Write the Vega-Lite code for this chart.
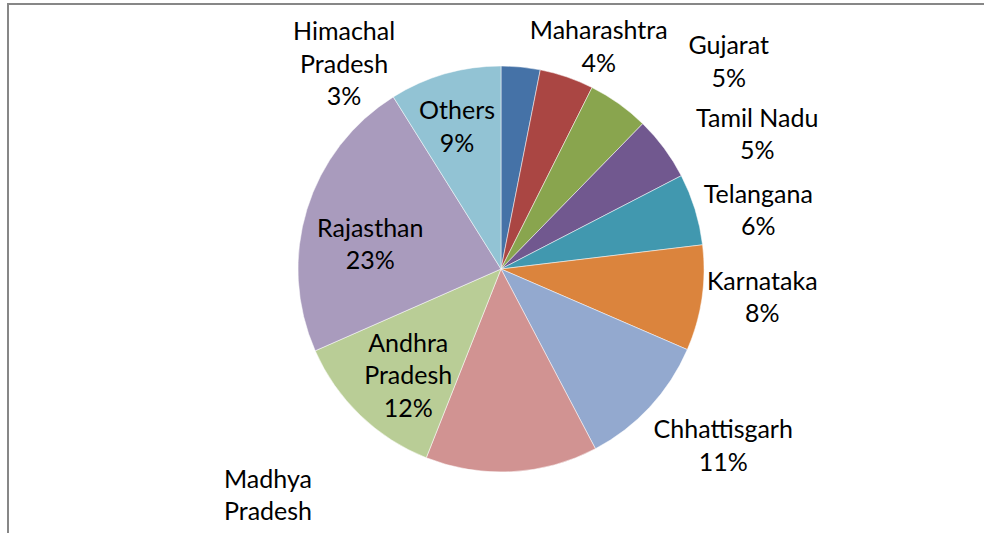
{
  "$schema": "https://vega.github.io/schema/vega-lite/v6.json",
  "width": 986,
  "height": 530,
  "autosize": {"type": "none"},
  "padding": {"left": 8, "top": 4, "right": 0, "bottom": 0},
  "background": "white",
  "view": {"stroke": "#878787", "strokeWidth": 2},
  "config": {
    "view": {"stroke": "#878787", "strokeWidth": 2},
    "style": {"cell": {"stroke": "#878787", "strokeWidth": 2}},
    "text": {"font": "Lato", "fontSize": 25, "lineHeight": 32.5, "lineBreak": "\n", "align": "center", "baseline": "middle", "color": "#000000"}
  },
  "data": {
    "values": [
      {"rank": 1, "state": "Himachal Pradesh", "share": 3.1, "label": "Himachal\nPradesh\n3%"},
      {"rank": 2, "state": "Maharashtra", "share": 4.3, "label": "Maharashtra\n4%"},
      {"rank": 3, "state": "Gujarat", "share": 4.9, "label": "Gujarat\n5%"},
      {"rank": 4, "state": "Tamil Nadu", "share": 5.1, "label": "Tamil Nadu\n5%"},
      {"rank": 5, "state": "Telangana", "share": 5.7, "label": "Telangana\n6%"},
      {"rank": 6, "state": "Karnataka", "share": 8.4, "label": "Karnataka\n8%"},
      {"rank": 7, "state": "Chhattisgarh", "share": 10.8, "label": "Chhattisgarh\n11%"},
      {"rank": 8, "state": "Madhya Pradesh", "share": 13.7, "label": "Madhya\nPradesh\n14%"},
      {"rank": 9, "state": "Andhra Pradesh", "share": 12.4, "label": "Andhra\nPradesh\n12%"},
      {"rank": 10, "state": "Rajasthan", "share": 22.7, "label": "Rajasthan\n23%"},
      {"rank": 11, "state": "Others", "share": 8.9, "label": "Others\n9%"}
    ]
  },
  "encoding": {
    "theta": {"field": "share", "type": "quantitative", "stack": true},
    "order": {"field": "rank", "type": "quantitative"}
  },
  "layer": [
    {
      "mark": {"type": "arc", "radius": 203, "stroke": "#ffffff", "strokeWidth": 0.5},
      "encoding": {
        "color": {
          "field": "state",
          "type": "nominal",
          "scale": {
            "domain": ["Himachal Pradesh", "Maharashtra", "Gujarat", "Tamil Nadu", "Telangana", "Karnataka", "Chhattisgarh", "Madhya Pradesh", "Andhra Pradesh", "Rajasthan", "Others"],
            "range": ["#4572A7", "#AA4643", "#89A54E", "#71588F", "#4198AF", "#DB843D", "#93A9CF", "#D19392", "#B9CD96", "#A99BBD", "#92C3D4"]
          },
          "legend": null
        }
      }
    },
    {"mark": {"type": "text", "radius": 258, "dx": -182, "dy": 20}, "encoding": {"detail": {"field": "state"}, "text": {"condition": {"test": "datum.state === 'Himachal Pradesh'", "field": "label"}, "value": ""}}},
    {"mark": {"type": "text", "radius": 243, "dx": 19, "dy": -8}, "encoding": {"detail": {"field": "state"}, "text": {"condition": {"test": "datum.state === 'Maharashtra'", "field": "label"}, "value": ""}}},
    {"mark": {"type": "text", "radius": 308, "dx": 49, "dy": 28}, "encoding": {"detail": {"field": "state"}, "text": {"condition": {"test": "datum.state === 'Gujarat'", "field": "label"}, "value": ""}}},
    {"mark": {"type": "text", "radius": 289, "dx": 24, "dy": 22}, "encoding": {"detail": {"field": "state"}, "text": {"condition": {"test": "datum.state === 'Tamil Nadu'", "field": "label"}, "value": ""}}},
    {"mark": {"type": "text", "radius": 263, "dx": 6, "dy": 3}, "encoding": {"detail": {"field": "state"}, "text": {"condition": {"test": "datum.state === 'Telangana'", "field": "label"}, "value": ""}}},
    {"mark": {"type": "text", "radius": 263, "dx": 1, "dy": -25}, "encoding": {"detail": {"field": "state"}, "text": {"condition": {"test": "datum.state === 'Karnataka'", "field": "label"}, "value": ""}}},
    {"mark": {"type": "text", "radius": 284, "dx": 14, "dy": -32}, "encoding": {"detail": {"field": "state"}, "text": {"condition": {"test": "datum.state === 'Chhattisgarh'", "field": "label"}, "value": ""}}},
    {"mark": {"type": "text", "radius": 337, "dx": -251, "dy": -126}, "encoding": {"detail": {"field": "state"}, "text": {"condition": {"test": "datum.state === 'Madhya Pradesh'", "field": "label"}, "value": ""}}},
    {"mark": {"type": "text", "radius": 141, "dx": 5, "dy": -27}, "encoding": {"detail": {"field": "state"}, "text": {"condition": {"test": "datum.state === 'Andhra Pradesh'", "field": "label"}, "value": ""}}},
    {"mark": {"type": "text", "radius": 141, "dx": 4, "dy": 1}, "encoding": {"detail": {"field": "state"}, "text": {"condition": {"test": "datum.state === 'Rajasthan'", "field": "label"}, "value": ""}}},
    {"mark": {"type": "text", "radius": 141, "dx": -5, "dy": -22}, "encoding": {"detail": {"field": "state"}, "text": {"condition": {"test": "datum.state === 'Others'", "field": "label"}, "value": ""}}}
  ]
}
